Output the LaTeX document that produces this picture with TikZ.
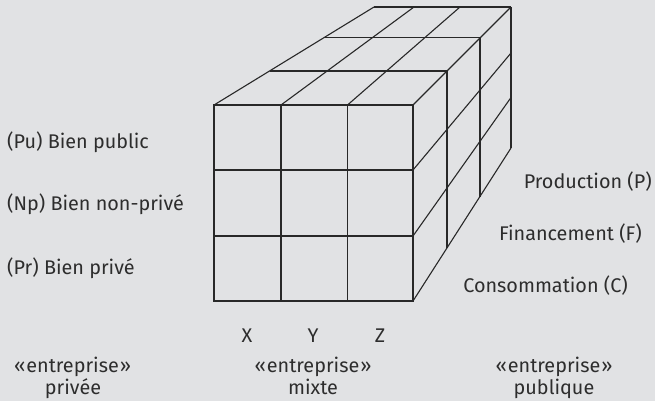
\documentclass[tikz,border=0pt]{standalone}
\usepackage{fontspec}
\setmainfont{Fira Sans}
\definecolor{bg}{RGB}{225,226,228}
\definecolor{ln}{RGB}{40,40,40}
\definecolor{tx}{RGB}{45,45,45}
\tikzset{
  edge/.style={draw=ln, line width=1.1bp},
  lbl/.style={text=tx, inner sep=0pt, font=\fontsize{19.8bp}{23bp}\selectfont},
}
\begin{document}
\begin{tikzpicture}[x=1bp,y=-1bp]
\fill[bg] (0,0) rectangle (655,401);
\useasboundingbox (0,0) rectangle (655,401);
% front face
\coordinate (f00) at (214,105);
\coordinate (f30) at (413,105);
\coordinate (f03) at (214,301);
\coordinate (f33) at (413,301);
\draw[edge] (f00) rectangle (f33);
\draw[edge] (281,105) -- (281,301);
\draw[edge] (347.5,105) -- (347.5,301);
\draw[edge] (214,170) -- (413,170);
\draw[edge] (214,236) -- (413,236);
% top face
\draw[edge] (374,7) -- (511,7);
\draw[edge] (325,37.5) -- (480,37.5);
\draw[edge] (270,71) -- (447,71);
\draw[edge] (f00) -- (374,7);
\draw[edge] (281,105) -- (414,7);
\draw[edge] (347.5,105) -- (460,7);
\draw[edge] (f30) -- (511,7);
% right face
\draw[edge] (447,71) -- (447,248);
\draw[edge] (480,37.5) -- (480,196.5);
\draw[edge] (511,7) -- (511,148);
\draw[edge] (413,170) -- (511,53);
\draw[edge] (413,236) -- (511,97.5);
\draw[edge] (f33) -- (511,148);
% left labels
\node[lbl, anchor=base west] (pu) at (7,148.3) {(Pu) Bien public};
\node[lbl, anchor=base west] (np) at (7,210.7) {(Np) Bien non-privé};
\node[lbl, anchor=base west] (pr) at (7,274) {(Pr) Bien privé};
% right labels
\node[lbl, anchor=base east] (p) at (652,188) {Production (P)};
\node[lbl, anchor=base east] (f) at (642,240) {Financement (F)};
\node[lbl, anchor=base east] (c) at (628,292.7) {Consommation (C)};
% XYZ
\node[lbl, anchor=base] (x) at (247,342.7) {X};
\node[lbl, anchor=base] (y) at (313,342.7) {Y};
\node[lbl, anchor=base] (z) at (380,342.7) {Z};
% bottom
\node[lbl, anchor=base] (e1) at (72.5,372.3) {«\kern1bp entreprise\kern1bp»};
\node[lbl, anchor=base] (e1b) at (73,394) {privée};
\node[lbl, anchor=base] (e2) at (313,372.3) {«\kern1bp entreprise\kern1bp»};
\node[lbl, anchor=base] (e2b) at (313,394) {mixte};
\node[lbl, anchor=base] (e3) at (554,372.3) {«\kern1bp entreprise\kern1bp»};
\node[lbl, anchor=base] (e3b) at (554,394) {publique};
\end{tikzpicture}
\end{document}
